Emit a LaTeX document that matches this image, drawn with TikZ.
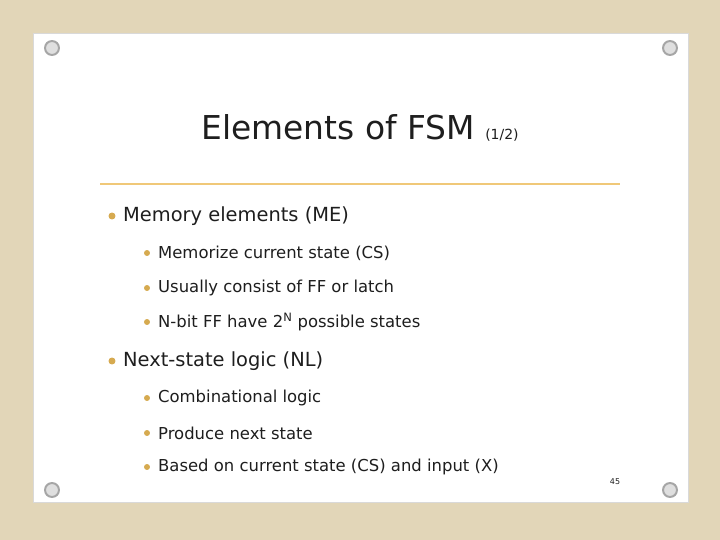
\documentclass[tikz,border=0pt]{standalone}
\usepackage{fontspec}
\setmainfont{DejaVu Sans}
\definecolor{paper}{RGB}{226,214,184}
\definecolor{rule}{RGB}{240,200,120}
\definecolor{dot}{RGB}{214,170,80}
\definecolor{ink}{RGB}{30,30,30}
\tikzset{
  pin/.style={circle,draw=gray!70,line width=2pt,fill=gray!25,minimum size=14pt,inner sep=0pt},
  itemA/.style={anchor=west,font=\fontsize{19.5}{22}\selectfont,text=ink,inner sep=0pt},
  itemB/.style={anchor=west,font=\fontsize{16.5}{19}\selectfont,text=ink,inner sep=0pt},
  bul/.style={circle,fill=dot,inner sep=0pt,minimum size=#1}
}
\begin{document}
\begin{tikzpicture}[x=1bp,y=-1bp]
  \useasboundingbox (0,0) rectangle (720,540);
  \fill[paper] (0,0) rectangle (720,540);
  \fill[white] (33,33) rectangle (688,502);
  \draw[gray!30] (33,33) rectangle (688,502);
  %% pins
  \node (pinNW) at (52,48) [pin] {};
  \node (pinNE) at (670,48) [pin] {};
  \node (pinSW) at (52,490) [pin] {};
  \node (pinSE) at (670,490) [pin] {};
  %% title
  \node (title) at (360,128) [font=\fontsize{33}{38}\selectfont,text=ink] {Elements of FSM {\fontsize{14}{18}\selectfont (1/2)}};
  \draw[rule,line width=1.2pt] (100,184) -- (620,184);
  %% level one
  \node (bME) at (112,216) [bul=7pt] {};
  \node (tME) at (123,216) [itemA] {Memory elements (ME)};
  \node (bNL) at (112,361) [bul=7pt] {};
  \node (tNL) at (123,361) [itemA] {Next-state logic (NL)};
  %% level two
  \foreach \y/\txt [count=\i] in {253/Memorize current state (CS),
      288/Usually consist of FF or latch,
      322/{N-bit FF have 2\textsuperscript{N} possible states},
      398/Combinational logic,
      433/Produce next state,
      467/Based on current state (CS) and input (X)} {
    \node (b\i) at (147,\y) [bul=6pt] {};
    \node (t\i) at (158,\y) [itemB] {\txt};
  }
  \node (page) at (615,482) [font=\fontsize{8}{9}\selectfont,text=ink] {45};
\end{tikzpicture}
\end{document}
